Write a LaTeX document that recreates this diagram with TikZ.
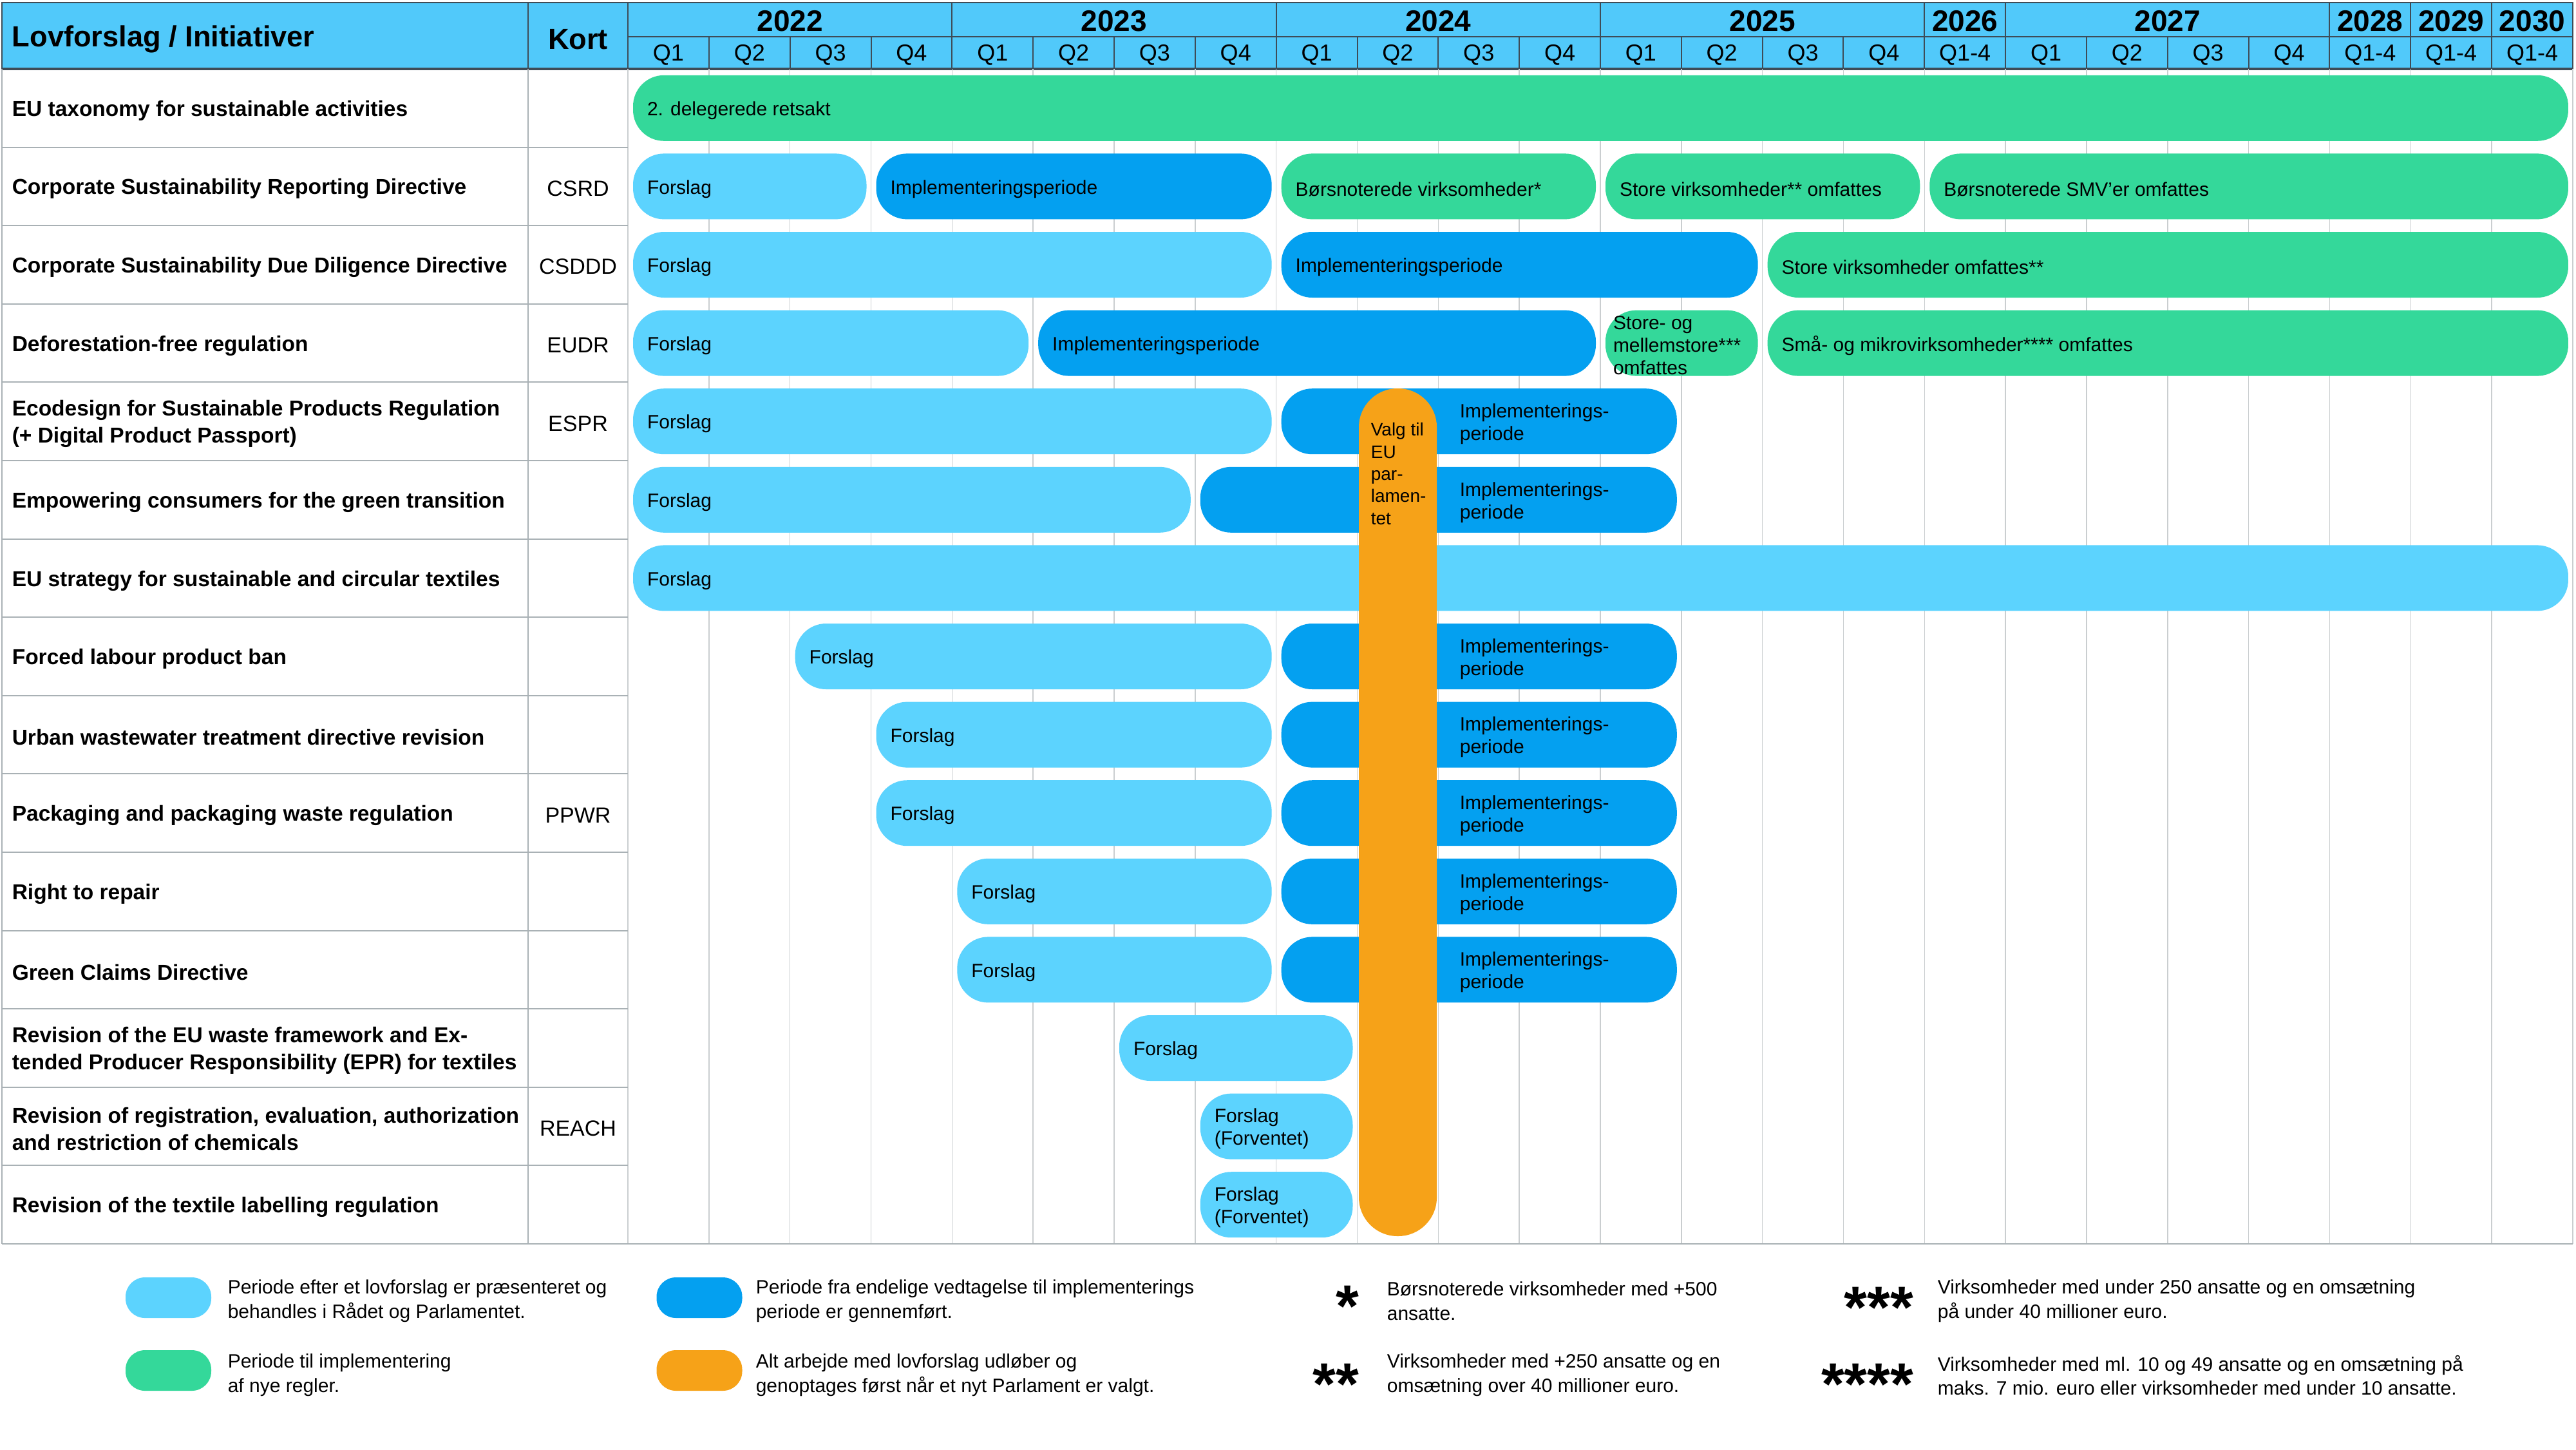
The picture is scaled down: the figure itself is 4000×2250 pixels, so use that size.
\documentclass[tikz,border=0pt]{standalone}
\usepackage{fontspec}
\setmainfont{Liberation Sans}
\definecolor{cHead}{HTML}{51C9FA}
\definecolor{cLight}{HTML}{5CD3FE}
\definecolor{cDark}{HTML}{04A0F0}
\definecolor{cGreen}{HTML}{34D89A}
\definecolor{cOrange}{HTML}{F6A218}
\definecolor{cHdLine}{HTML}{3E4C57}
\definecolor{cGrid}{HTML}{CACED0}
\definecolor{cRow}{HTML}{A9B1B5}

% #1 text x-offset (pt), #2 style, #3 row, #4 c1, #5 c2, #6 name, #7 text
\newcommand\capsule[7][5.5]{%
  \pgfmathsetmacro\capXa{975+125.83*#4+8}%
  \pgfmathsetmacro\capXb{975+125.83*#5-7}%
  \pgfmathsetmacro\capYc{107+121.6*(#3+0.5)}%
  \pgfmathsetmacro\capW{(\capXb-\capXa)*0.25}%
  \pgfmathsetmacro\capXm{(\capXa+\capXb)/2}%
  \node[capbox,#2,minimum width=\capW pt] (#6) at (\capXm,\capYc) {};%
  \node[bartext] (#6t) at ([xshift=#1pt]#6.west) {#7};%
}
\newcommand\rowname[3]{%
  \pgfmathsetmacro\capYc{107+121.6*(#1+0.5)}%
  \node[rowlabel] (#2) at (18,\capYc) {#3};%
}
\newcommand\kortname[3]{%
  \pgfmathsetmacro\capYc{107+121.6*(#1+0.5)}%
  \node[kortlabel] (#2) at (897.5,\capYc) {#3};%
}
\newcommand\impllabel[2]{%
  \pgfmathsetmacro\capYc{107+121.6*(#1+0.5)}%
  \node[bartext] (#2) at (2266,\capYc) {Implementerings-\\periode};%
}

\tikzset{
  capbox/.style={rectangle, rounded corners=12pt, minimum height=25.5pt, inner sep=0pt},
  bartext/.style={anchor=west, align=left, inner sep=0pt, yshift=-1pt, text=black,
     font=\fontsize{7.5}{8.75}\selectfont},
  lightbar/.style={fill=cLight},
  darkbar/.style={fill=cDark},
  greenbar/.style={fill=cGreen},
  rowlabel/.style={anchor=west, align=left, inner sep=0pt, yshift=-1pt, font=\bfseries\fontsize{8.375}{10.5}\selectfont},
  kortlabel/.style={inner sep=0pt, yshift=-0.8pt, font=\fontsize{8.5}{10}\selectfont},
  yearlabel/.style={inner sep=0pt, font=\bfseries\fontsize{11.5}{13}\selectfont},
  qlabel/.style={inner sep=0pt, yshift=-0.6pt, font=\fontsize{9}{10}\selectfont},
  headlabel/.style={inner sep=0pt, yshift=-0.8pt, font=\bfseries\fontsize{11.3}{13}\selectfont},
  hdline/.style={draw=cHdLine, line width=0.5pt},
  gridline/.style={draw=cGrid, line width=0.4pt},
  rowline/.style={draw=cRow, line width=0.5pt},
  swatch/.style={rectangle, rounded corners=7.5pt, minimum width=33.25pt, minimum height=15.75pt, inner sep=0pt},
  legtext/.style={anchor=west, align=left, inner sep=0pt, yshift=-1pt, font=\fontsize{7.5}{9.4}\selectfont},
  starlabel/.style={anchor=base east, inner sep=0pt, font=\bfseries\fontsize{23}{23}\selectfont},
}

\begin{document}
\begin{tikzpicture}[x=0.25pt,y=-0.25pt]
\useasboundingbox (0,0) rectangle (4000,2250);
\fill[white] (0,0) rectangle (4000,2250);

% ---------- header ----------
\fill[cHead] (3,4) rectangle (3995,107);
\draw[hdline] (975,57) -- (3995,57);
\foreach \c in {1,2,3,5,6,7,9,10,11,13,14,15,18,19,20}
  \draw[hdline] ({975+125.83*\c},57) -- ({975+125.83*\c},107);
\foreach \c in {4,8,12,16,17,21,22,23}
  \draw[hdline] ({975+125.83*\c},4) -- ({975+125.83*\c},107);
\draw[hdline] (820,4) -- (820,107);
\draw[hdline] (975,4) -- (975,107);
\draw[hdline] (3,4) rectangle (3995,107);
\draw[draw=cHdLine, line width=0.85pt] (3,107) -- (3995,107);

\node[headlabel, anchor=west] (hLov) at (18,58) {Lovforslag / Initiativer};
\node[headlabel] (hKort) at (897.5,58) {Kort};

\foreach \a/\b/\yr in {0/4/2022,4/8/2023,8/12/2024,12/16/2025,16/17/2026,17/21/2027,21/22/2028,22/23/2029,23/24/2030}
  \node[yearlabel] (yr\yr) at ({975+125.83*(\a+\b)/2},33) {\yr};
\foreach \c/\q in {0/Q1,1/Q2,2/Q3,3/Q4,4/Q1,5/Q2,6/Q3,7/Q4,8/Q1,9/Q2,10/Q3,11/Q4,12/Q1,13/Q2,14/Q3,15/Q4,16/Q1-4,17/Q1,18/Q2,19/Q3,20/Q4,21/Q1-4,22/Q1-4,23/Q1-4}
  \node[qlabel] (q\c) at ({975+125.83*(\c+0.5)},83) {\q};

% ---------- body grid ----------
\foreach \c in {0,...,24}
  \draw[gridline] ({975+125.83*\c},107) -- ({975+125.83*\c},1931);
\draw[rowline] (3,107) -- (3,1931);
\draw[rowline] (820,107) -- (820,1931);
\foreach \k in {1,...,14}
  \draw[rowline] (3,{107+121.6*\k}) -- (975,{107+121.6*\k});
\draw[rowline] (3,1931) -- (3995,1931);

% ---------- row labels ----------
\rowname{0}{rTax}{EU taxonomy for sustainable activities}
\rowname{1}{rCSRD}{Corporate Sustainability Reporting Directive}
\rowname{2}{rCSDDD}{Corporate Sustainability Due Diligence Directive}
\rowname{3}{rEUDR}{Deforestation-free regulation}
\rowname{4}{rESPR}{Ecodesign for Sustainable Products Regulation\\(+ Digital Product Passport)}
\rowname{5}{rEmp}{Empowering consumers for the green transition}
\rowname{6}{rStrat}{EU strategy for sustainable and circular textiles}
\rowname{7}{rForced}{Forced labour product ban}
\rowname{8}{rUrban}{Urban wastewater treatment directive revision}
\rowname{9}{rPPWR}{Packaging and packaging waste regulation}
\rowname{10}{rRepair}{Right to repair}
\rowname{11}{rGreen}{Green Claims Directive}
\rowname{12}{rWaste}{Revision of the EU waste framework and Ex-\\tended Producer Responsibility (EPR) for textiles}
\rowname{13}{rREACH}{Revision of registration, evaluation, authorization\\and restriction of chemicals}
\rowname{14}{rLabel}{Revision of the textile labelling regulation}

\kortname{1}{kCSRD}{CSRD}
\kortname{2}{kCSDDD}{CSDDD}
\kortname{3}{kEUDR}{EUDR}
\kortname{4}{kESPR}{ESPR}
\kortname{9}{kPPWR}{PPWR}
\kortname{13}{kREACH}{REACH}

% ---------- bars ----------
\capsule{greenbar}{0}{0}{24}{b0a}{2. delegerede retsakt}

\capsule{lightbar}{1}{0}{3}{b1a}{Forslag}
\capsule{darkbar}{1}{3}{8}{b1b}{Implementeringsperiode}
\capsule{greenbar}{1}{8}{12}{b1c}{Børsnoterede virksomheder*}
\capsule{greenbar}{1}{12}{16}{b1d}{Store virksomheder** omfattes}
\capsule{greenbar}{1}{16}{24}{b1e}{Børsnoterede SMV’er omfattes}

\capsule{lightbar}{2}{0}{8}{b2a}{Forslag}
\capsule{darkbar}{2}{8}{14}{b2b}{Implementeringsperiode}
\capsule{greenbar}{2}{14}{24}{b2c}{Store virksomheder omfattes**}

\capsule{lightbar}{3}{0}{5}{b3a}{Forslag}
\capsule{darkbar}{3}{5}{12}{b3b}{Implementeringsperiode}
\capsule[3]{greenbar}{3}{12}{14}{b3c}{Store- og\\mellemstore***\\omfattes}
\capsule{greenbar}{3}{14}{24}{b3d}{Små- og mikrovirksomheder**** omfattes}

\capsule{lightbar}{4}{0}{8}{b4a}{Forslag}
\capsule{darkbar}{4}{8}{13}{b4b}{}

\capsule{lightbar}{5}{0}{7}{b5a}{Forslag}
\capsule{darkbar}{5}{7}{13}{b5b}{}

\capsule{lightbar}{6}{0}{24}{b6a}{Forslag}

\capsule{lightbar}{7}{2}{8}{b7a}{Forslag}
\capsule{darkbar}{7}{8}{13}{b7b}{}

\capsule{lightbar}{8}{3}{8}{b8a}{Forslag}
\capsule{darkbar}{8}{8}{13}{b8b}{}

\capsule{lightbar}{9}{3}{8}{b9a}{Forslag}
\capsule{darkbar}{9}{8}{13}{b9b}{}

\capsule{lightbar}{10}{4}{8}{b10a}{Forslag}
\capsule{darkbar}{10}{8}{13}{b10b}{}

\capsule{lightbar}{11}{4}{8}{b11a}{Forslag}
\capsule{darkbar}{11}{8}{13}{b11b}{}

\capsule{lightbar}{12}{6}{9}{b12a}{Forslag}
\capsule{lightbar}{13}{7}{9}{b13a}{Forslag\\(Forventet)}
\capsule{lightbar}{14}{7}{9}{b14a}{Forslag\\(Forventet)}

% ---------- election bar ----------
\node[rectangle, rounded corners=15pt, fill=cOrange, minimum width=30.25pt, minimum height=329pt, inner sep=0pt] (valg) at (2170.5,1261) {};
\node[anchor=west, align=left, inner sep=0pt, yshift=-1pt, font=\fontsize{7}{8.6}\selectfont] (valgtxt) at (2128,731.5) {Valg til\\EU\\par-\\lamen-\\tet};

\impllabel{4}{i4}
\impllabel{5}{i5}
\impllabel{7}{i7}
\impllabel{8}{i8}
\impllabel{9}{i9}
\impllabel{10}{i10}
\impllabel{11}{i11}

% ---------- legend ----------
\node[swatch, fill=cLight] (swLight) at (261.5,2014.5) {};
\node[swatch, fill=cDark] (swDark) at (1086,2014.5) {};
\node[swatch, fill=cGreen] (swGreen) at (261.5,2127.5) {};
\node[swatch, fill=cOrange] (swOrange) at (1086,2127.5) {};

\node[legtext] (lgA) at (353,2016) {Periode efter et lovforslag er præsenteret og\\behandles i Rådet og Parlamentet.};
\node[legtext] (lgB) at (1173,2016) {Periode fra endelige vedtagelse til implementerings\\periode er gennemført.};
\node[legtext] (lgC) at (353,2131) {Periode til implementering\\af nye regler.};
\node[legtext] (lgD) at (1173,2131) {Alt arbejde med lovforslag udløber og\\genoptages først når et nyt Parlament er valgt.};

\node[starlabel] (st1) at (2111,2059) {*};
\node[starlabel] (st2) at (2111,2180) {**};
\node[starlabel] (st3) at (2972,2061) {***};
\node[starlabel] (st4) at (2972,2180) {****};

\node[legtext] (lgE) at (2153,2016) {Børsnoterede virksomheder med +500\\ansatte.};
\node[legtext] (lgF) at (2153,2131) {Virksomheder med +250 ansatte og en\\omsætning over 40 millioner euro.};
\node[legtext] (lgG) at (3008,2016) {Virksomheder med under 250 ansatte og en omsætning\\på under 40 millioner euro.};
\node[legtext] (lgH) at (3008,2131) {Virksomheder med ml. 10 og 49 ansatte og en omsætning på\\maks. 7 mio. euro eller virksomheder med under 10 ansatte.};
\end{tikzpicture}
\end{document}
